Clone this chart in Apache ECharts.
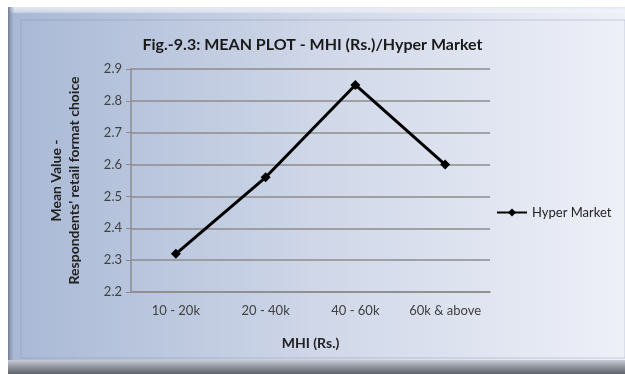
<!DOCTYPE html>
<html><head><meta charset="utf-8">
<script src="https://cdn.jsdelivr.net/npm/echarts@6/dist/echarts.min.js"></script>
<style>html,body{margin:0;padding:0;background:#fff}#c{width:625px;height:374px}</style>
</head><body><div id="c"></div>
<script>
var categories = ['10 - 20k', '20 - 40k', '40 - 60k', '60k & above'];
var hyperMarket = [2.32, 2.56, 2.85, 2.60];
var seriesName = 'Hyper Market';
var titleText = 'Fig.-9.3: MEAN PLOT - MHI (Rs.)/Hyper Market';
var yName = "Mean Value -\nRespondents' retail format choice";
var xName = 'MHI (Rs.)';

var chart = echarts.init(document.getElementById('c'), null, {renderer: 'canvas'});
var font = 'Lato, "Open Sans", sans-serif';
chart.setOption({
  animation: false,
  graphic: [
    {type: 'rect', z: -10, shape: {x: 8, y: 7, width: 617, height: 362},
     style: {fill: new echarts.graphic.LinearGradient(0, 0, 1, 0, [
       {offset: 0, color: '#a8b8d5'}, {offset: 0.5, color: '#cfd7e8'}, {offset: 1, color: '#eef0f8'}])}},
    {type: 'rect', z: -9, shape: {x: 8, y: 7, width: 617, height: 6},
     style: {fill: new echarts.graphic.LinearGradient(0, 0, 0, 1, [
       {offset: 0, color: '#e2e6f0'}, {offset: 1, color: 'rgba(255,255,255,0.3)'}])}},
    {type: 'rect', z: -9, shape: {x: 8, y: 7, width: 6, height: 362},
     style: {fill: new echarts.graphic.LinearGradient(0, 0, 1, 0, [
       {offset: 0, color: '#6f7a92'}, {offset: 1, color: 'rgba(160,175,205,0.2)'}])}},
    {type: 'rect', z: -9, shape: {x: 21, y: 20, width: 604, height: 338},
     style: {fill: 'none', stroke: 'rgba(120,135,165,0.35)', lineWidth: 1}},
    {type: 'rect', z: -9, shape: {x: 8, y: 360, width: 617, height: 14},
     style: {fill: new echarts.graphic.LinearGradient(0, 0, 0, 1, [
       {offset: 0, color: '#c8ccd6'}, {offset: 0.4, color: '#9a9ea8'}, {offset: 1, color: '#5e626a'}])}}
  ],
  title: {
    text: titleText, left: 'center', top: 32,
    textStyle: {fontFamily: font, fontSize: 16, fontWeight: 'bold', color: '#1a1a1a'}
  },
  legend: {
    data: [seriesName],
    left: 491, top: 201, itemWidth: 30, itemHeight: 10, itemGap: 2,
    textStyle: {fontFamily: font, fontSize: 13, color: '#222'}
  },
  grid: {left: 131, right: 135, top: 69, bottom: 82, containLabel: false},
  xAxis: {
    type: 'category', data: categories, boundaryGap: true,
    name: xName, nameLocation: 'middle', nameGap: 44,
    nameTextStyle: {fontFamily: font, fontSize: 14, fontWeight: 'bold', color: '#222'},
    axisLine: {lineStyle: {color: '#8c8c8c', width: 1.5}},
    axisTick: {show: false},
    axisLabel: {fontFamily: font, fontSize: 13, color: '#404040', margin: 12, interval: 0}
  },
  yAxis: {
    type: 'value', min: 2.2, max: 2.9, interval: 0.1,
    name: yName, nameLocation: 'middle', nameGap: 48, nameRotate: 90,
    nameTextStyle: {fontFamily: font, fontSize: 14, fontWeight: 'bold', color: '#222', lineHeight: 18},
    axisLine: {show: true, lineStyle: {color: '#8c8c8c', width: 1.5}},
    axisTick: {show: true, length: 5, lineStyle: {color: '#8c8c8c'}},
    splitLine: {lineStyle: {color: '#8c8c8c', width: 1.5}},
    axisLabel: {fontFamily: font, fontSize: 13, color: '#404040', margin: 9,
      formatter: function (v) { return v.toFixed(1); }}
  },
  series: [{
    name: seriesName, type: 'line', data: hyperMarket,
    symbol: 'diamond', symbolSize: 10,
    lineStyle: {color: '#000', width: 3},
    itemStyle: {color: '#000'}
  }]
});
</script></body></html>
